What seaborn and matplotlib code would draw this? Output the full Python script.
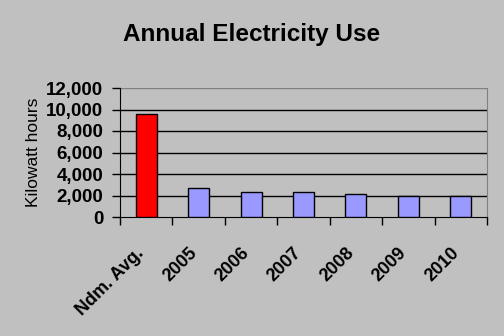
import matplotlib
matplotlib.use("Agg")
import matplotlib.pyplot as plt
import seaborn as sns
import pandas as pd
from matplotlib.ticker import FuncFormatter, FixedLocator

categories = ["Ndm. Avg.", "2005", "2006", "2007", "2008", "2009", "2010"]
values = [9600, 2680, 2300, 2300, 2120, 2000, 2000]
colors = ["#FF0000", "#9999FF", "#9999FF", "#9999FF", "#9999FF", "#9999FF", "#9999FF"]

sns.set_style("white")
plt.rcParams['font.family'] = ['Liberation Sans', 'DejaVu Sans']
plt.rcParams['text.color'] = 'black'
plt.rcParams['axes.labelcolor'] = 'black'
plt.rcParams['xtick.color'] = 'black'
plt.rcParams['ytick.color'] = 'black'

df = pd.DataFrame({"cat": categories, "val": values})
bg = "#C0C0C0"
fig = plt.figure(figsize=(5.04, 3.36), dpi=100, facecolor=bg)
ax = fig.add_axes([120/504, 1-217/336, (487-120)/504, (217-88)/336])
ax.set_facecolor(bg)

sns.barplot(data=df, x="cat", y="val", hue="cat", palette=colors, legend=False,
            width=0.4, edgecolor="black", linewidth=1.0, saturation=1, ax=ax, zorder=3)

ax.set_ylim(0, 12000)
ax.set_xlim(-0.5, len(categories) - 0.5)
ax.set_yticks(range(0, 12001, 2000))
ax.yaxis.set_major_formatter(FuncFormatter(lambda v, p: f"{int(v):,}"))
for yv in range(2000, 12000, 2000):
    ax.axhline(yv, color="black", linewidth=1.0, zorder=1)
ax.axhline(12000, color="#808080", linewidth=1.0, zorder=1)

ax.spines["top"].set_visible(False)
ax.spines["right"].set_color("#808080")
ax.spines["left"].set_color("black")
ax.spines["bottom"].set_color("black")

ax.xaxis.set_major_locator(FixedLocator([i + 0.5 for i in range(-1, len(categories))]))
ax.set_xticklabels([])
ax.xaxis.set_minor_locator(FixedLocator([i - 0.2 for i in range(len(categories))]))
ax.set_xticklabels(categories, minor=True, rotation=45, ha="right", rotation_mode="anchor",
                   fontsize=13, fontweight="bold")
ax.tick_params(axis="x", which="major", direction="out", length=6, width=1, color="black", bottom=True)
ax.tick_params(axis="x", which="minor", length=0, pad=20)
ax.tick_params(axis="y", direction="out", length=6, width=1, color="black", left=True, labelsize=13.5, pad=6)
for t in ax.get_yticklabels():
    t.set_fontweight("bold")

ax.set_xlabel("")
ax.set_ylabel("Kilowatt hours", fontsize=12.5, labelpad=4)
fig.text(252/504, 1-34/336, "Annual Electricity Use", ha="center", va="center",
         fontsize=17.5, fontweight="bold")

fig.savefig("out.png", dpi=100, facecolor=bg)
